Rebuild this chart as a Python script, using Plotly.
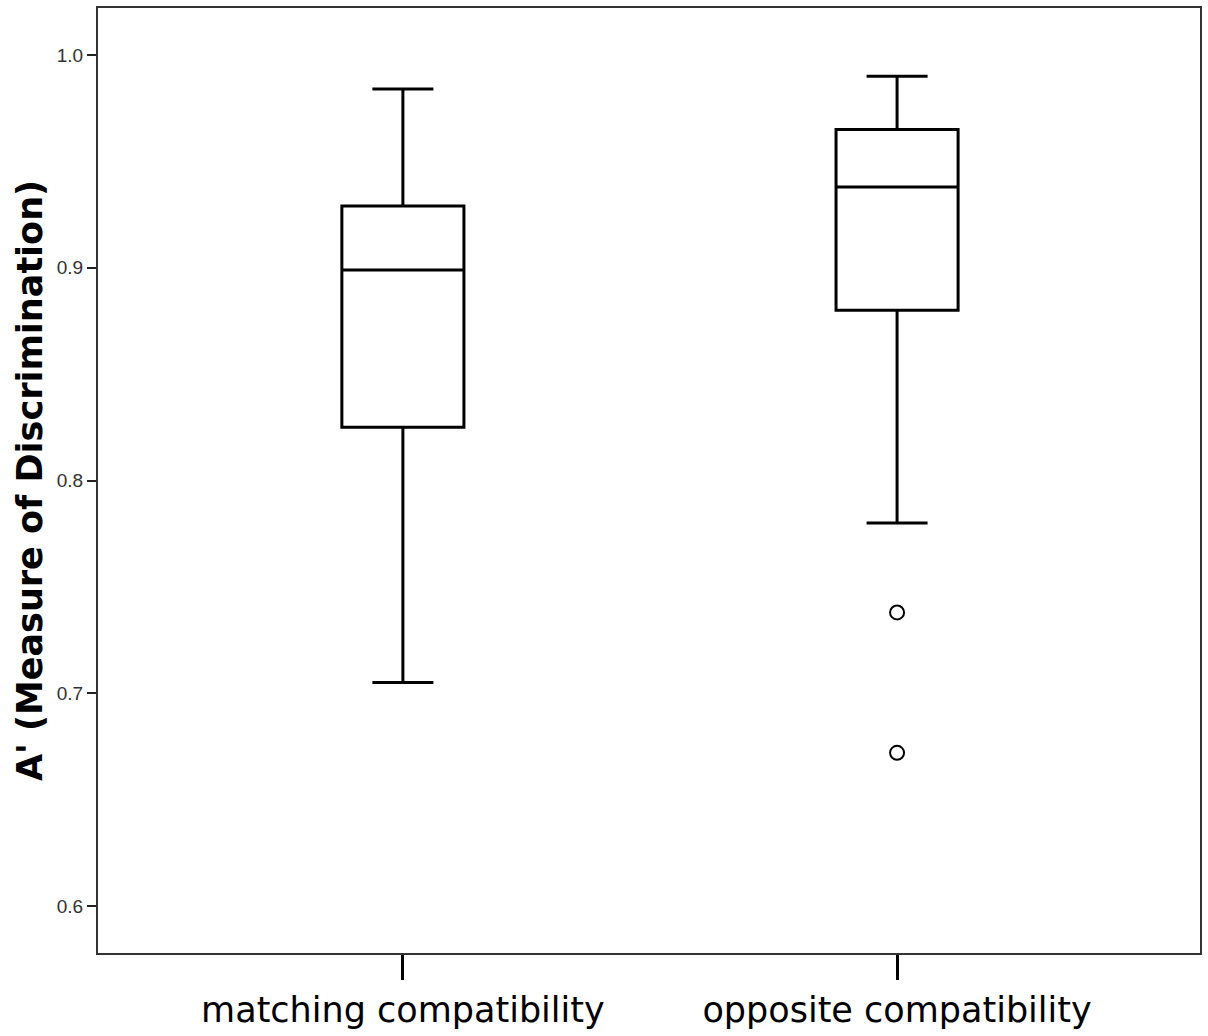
import plotly.graph_objects as go

categories = ["matching compatibility", "opposite compatibility"]
lower_whisker = [0.705, 0.780]
q1_vals = [0.825, 0.880]
median_vals = [0.899, 0.938]
q3_vals = [0.929, 0.965]
upper_whisker = [0.984, 0.990]
outlier_cat = [1, 1]
outlier_vals = [0.738, 0.672]
y_ticks = [0.6, 0.7, 0.8, 0.9, 1.0]
y_tick_labels = ["0.6", "0.7", "0.8", "0.9", "1.0"]

fig = go.Figure()
for i, c in enumerate(categories):
    fig.add_trace(go.Box(
        x=[i], q1=[q1_vals[i]], median=[median_vals[i]], q3=[q3_vals[i]],
        lowerfence=[lower_whisker[i]], upperfence=[upper_whisker[i]],
        width=0.247, whiskerwidth=0.5,
        line=dict(color="black", width=3), fillcolor="white",
        boxpoints=False, showlegend=False, name=c,
    ))

fig.add_trace(go.Scatter(
    x=outlier_cat, y=outlier_vals, mode="markers",
    marker=dict(symbol="circle-open", size=14, color="black", line=dict(width=2)),
    showlegend=False,
))

fig.update_layout(
    width=1208, height=1036,
    margin=dict(l=98, r=8, t=8, b=83),
    paper_bgcolor="white", plot_bgcolor="white",
    font=dict(family="Liberation Sans, Arial, sans-serif", color="black"),
)
fig.update_xaxes(
    range=[-0.617, 1.613], tickvals=[0, 1], ticktext=categories,
    ticks="outside", ticklen=25, tickwidth=3, tickcolor="black",
    tickfont=dict(size=35, color="black", family="DejaVu Sans"),
    showline=True, linecolor="#333", linewidth=2, mirror=True,
    showgrid=False, zeroline=False, automargin=False,
)
fig.update_yaxes(
    range=[0.5779, 1.0221], tickvals=y_ticks, ticktext=y_tick_labels,
    ticks="outside", ticklen=9, tickwidth=2, tickcolor="#222",
    tickfont=dict(size=19, color="#333", family="Liberation Sans"),
    showline=True, linecolor="#333", linewidth=2, mirror=True,
    showgrid=False, zeroline=False, automargin=False,
    title=dict(text="<b>A' (Measure of Discrimination)</b>",
               font=dict(size=35, color="black", family="DejaVu Sans"), standoff=4),
)

fig.write_html("out.html", config={"displayModeBar": False},
               post_script="document.body.style.margin='0';document.body.style.overflow='hidden';")
